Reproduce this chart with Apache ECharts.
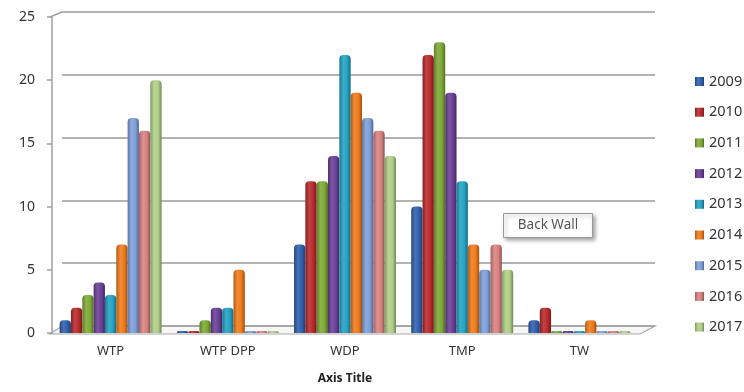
<!DOCTYPE html>
<html>
<head>
<meta charset="utf-8">
<script src="https://cdn.jsdelivr.net/npm/echarts@6/dist/echarts.min.js"></script>
<style>
  html, body { margin: 0; padding: 0; background: #fff; }
  #main { width: 744px; height: 392px; }
</style>
</head>
<body>
<div id="main"></div>
<script>
// categories and years
const categories = ['WTP', 'WTP DPP', 'WDP', 'TMP', 'TW'];
const years = ['2009', '2010', '2011', '2012', '2013', '2014', '2015', '2016', '2017'];
const yTicks = [0, 5, 10, 15, 20, 25];

// values per year, one per category
const v2009 = [1, 0, 7, 10, 1];
const v2010 = [2, 0, 12, 22, 2];
const v2011 = [3, 1, 12, 23, 0];
const v2012 = [4, 2, 14, 19, 0];
const v2013 = [3, 2, 22, 12, 0];
const v2014 = [7, 5, 19, 7, 1];
const v2015 = [17, 0, 17, 5, 0];
const v2016 = [16, 0, 16, 7, 0];
const v2017 = [20, 0, 14, 5, 0];
const values = [v2009, v2010, v2011, v2012, v2013, v2014, v2015, v2016, v2017];

const palette = ['#2f60ad', '#b8292b', '#7ea935', '#6a3f98', '#24a2c3', '#ef7b1b', '#7d9fd8', '#d98181', '#b0cf86'];

// darken (<0) / lighten (>0) a hex colour
function shade(hex, k) {
    let n = parseInt(hex.slice(1), 16)
        , r = n >> 16, g = (n >> 8) & 255, b = n & 255
    const f = c => Math.max(0, Math.min(255, Math.round(k < 0 ? c * (1 + k) : c + (255 - c) * k)))
    return 'rgb(' + f(r) + ',' + f(g) + ',' + f(b) + ')'
}

function barFill(c) {
    return new echarts.graphic.LinearGradient(0, 0, 1, 0, [
        { offset: 0, color: shade(c, -0.25) },
        { offset: 0.35, color: shade(c, 0.12) },
        { offset: 0.7, color: c },
        { offset: 1, color: shade(c, -0.35) }
    ])
}

const font = 'Noto Sans';

const series = years.map((y, i) => ({
    name: y,
    type: 'bar',
    xAxisIndex: 0,
    yAxisIndex: 0,
    data: values[i],
    barGap: '0%',
    barCategoryGap: '13%',
    barMinHeight: 2,
    itemStyle: {
        color: barFill(palette[i]),
        borderRadius: [4, 4, 0, 0]
    }
}));

// back wall gridlines live on a second, slightly shifted grid
series.push({
    type: 'line',
    xAxisIndex: 1,
    yAxisIndex: 1,
    data: [],
    silent: true
});

const chart = echarts.init(document.getElementById('main'));
chart.setOption({
    animation: false,
    color: palette,
    textStyle: { fontFamily: font },
    grid: [
        { left: 52, right: 106, top: 17, bottom: 59 },
        { left: 62, right: 89, top: 12, bottom: 66 }
    ],
    legend: {
        data: years,
        orient: 'vertical',
        left: 690,
        top: 68,
        itemWidth: 9,
        itemHeight: 9,
        itemGap: 13.7,
        icon: 'rect',
        textStyle: { fontSize: 14.5, color: '#333', lineHeight: 17 }
    },
    xAxis: [
        {
            type: 'category',
            data: categories,
            gridIndex: 0,
            axisLine: { show: false },
            axisTick: { show: false },
            axisLabel: { fontSize: 13, color: '#333', margin: 12 },
            name: 'Axis Title',
            nameLocation: 'middle',
            nameGap: 40,
            nameTextStyle: { fontSize: 12, fontWeight: 'bold', color: '#222' }
        },
        {
            type: 'category',
            gridIndex: 1,
            data: categories,
            show: false
        }
    ],
    yAxis: [
        {
            type: 'value',
            gridIndex: 0,
            min: 0,
            max: 25,
            interval: 5,
            axisLine: { show: true, lineStyle: { color: '#a0a0a0', width: 1.5 } },
            axisTick: { show: true, length: 5, lineStyle: { color: '#a0a0a0', width: 1.5 } },
            axisLabel: { fontSize: 14, color: '#333', margin: 17,
                formatter: v => yTicks.indexOf(v) >= 0 ? String(v) : '' },
            splitLine: { show: false }
        },
        {
            type: 'value',
            gridIndex: 1,
            min: 0,
            max: 25,
            interval: 5,
            axisLine: { show: false },
            axisTick: { show: false },
            axisLabel: { show: false },
            splitLine: { show: true, lineStyle: { color: '#9a9a9a', width: 1.5 } }
        }
    ],
    graphic: [
        // floor
        {
            type: 'polygon',
            z: -1,
            shape: { points: [[50, 334], [640, 334], [655, 326], [62, 326]] },
            style: { fill: '#f7f7f7', stroke: '#a8a8a8', lineWidth: 1.2 }
        },
        // wall edge joining front axis to back wall
        {
            type: 'polyline',
            shape: { points: [[50, 17], [62, 12]] },
            style: { stroke: '#a0a0a0', lineWidth: 1.5 }
        },
        {
            type: 'group',
            left: 503,
            top: 213,
            children: [
                {
                    type: 'rect',
                    shape: { x: 0, y: 0, width: 89, height: 24 },
                    style: { fill: '#fff', stroke: '#9a9a9a', lineWidth: 1,
                        shadowBlur: 4, shadowOffsetX: 2, shadowOffsetY: 2, shadowColor: 'rgba(0,0,0,0.35)' }
                },
                {
                    type: 'text',
                    x: 44.5,
                    y: 12,
                    style: { text: 'Back Wall', fontSize: 13.5, fontFamily: font, fill: '#555',
                        align: 'center', verticalAlign: 'middle' }
                }
            ]
        }
    ],
    series: series
});
</script>
</body>
</html>
